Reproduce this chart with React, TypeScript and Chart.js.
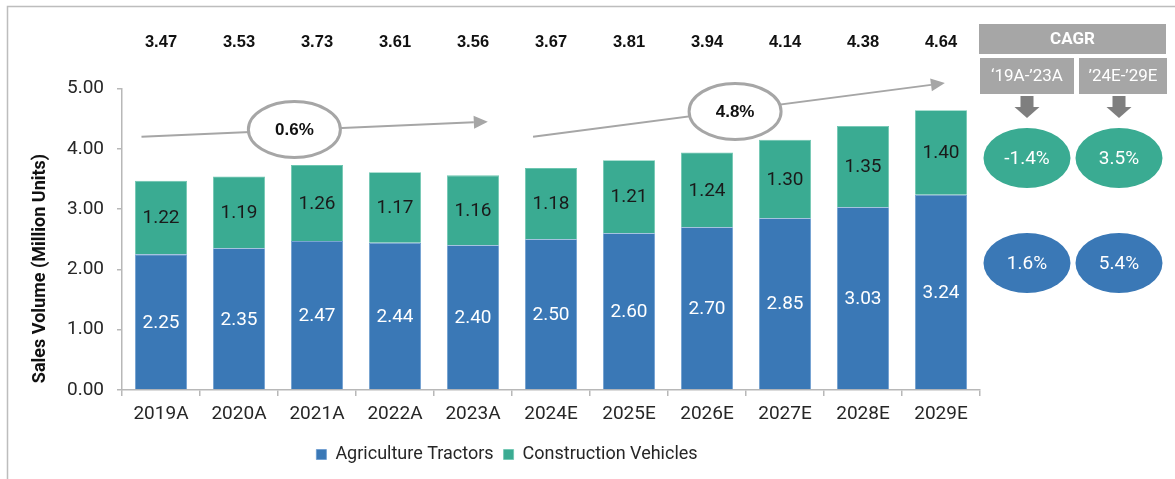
import React, { useEffect, useRef } from 'react';
import { Chart, registerables } from 'chart.js';

Chart.register(...registerables);

// ---------- data ----------
const categories = ['2019A', '2020A', '2021A', '2022A', '2023A', '2024E', '2025E', '2026E', '2027E', '2028E', '2029E'];
const agricultureTractors = [2.25, 2.35, 2.47, 2.44, 2.40, 2.50, 2.60, 2.70, 2.85, 3.03, 3.24];
const constructionVehicles = [1.22, 1.19, 1.26, 1.17, 1.16, 1.18, 1.21, 1.24, 1.30, 1.35, 1.40];
const totalLabels = [3.47, 3.53, 3.73, 3.61, 3.56, 3.67, 3.81, 3.94, 4.14, 4.38, 4.64];
const yTickMin = 0;
const yTickMax = 5;
const yTickStep = 1;
const trendCagr = ['0.6%', '4.8%'];
const cagrHeader = 'CAGR';
const cagrPeriods = ['\u201819A-\u201923A', '\u201924E-\u201929E'];
const constructionCagr = ['-1.4%', '3.5%'];
const agricultureCagr = ['1.6%', '5.4%'];
const seriesNames = ['Agriculture Tractors', 'Construction Vehicles'];
const yAxisTitle = 'Sales Volume (Million Units)';

// ---------- styles / layout ----------
const BLUE = '#3a78b6';
const GREEN = '#3aab92';
const AXIS_GRAY = '#b8b8b8';
const BOX_GRAY = '#a6a6a6';
const ARROW_GRAY = '#7f7f7f';
const TEXT = '#262626';
const SANS = 'Roboto, "Noto Sans", sans-serif';
const BOLD_SANS = '"Liberation Sans", Arial, sans-serif';

// trend arrows in (category index, value) space
const trendLayout = [
  { from: [-0.25, 4.2], to: [4.19, 4.45], label: [1.71, 4.32] },
  { from: [4.77, 4.2], to: [10.05, 5.09], label: [7.36, 4.62] },
];

function drawArrow(ctx: CanvasRenderingContext2D, x1: number, y1: number, x2: number, y2: number, color: string) {
  const ang = Math.atan2(y2 - y1, x2 - x1);
  const headLen = 14;
  const headHalf = 6.5;
  const bx = x2 - headLen * Math.cos(ang);
  const by = y2 - headLen * Math.sin(ang);
  ctx.save();
  ctx.strokeStyle = color;
  ctx.fillStyle = color;
  ctx.lineWidth = 2;
  ctx.beginPath();
  ctx.moveTo(x1, y1);
  ctx.lineTo(bx, by);
  ctx.stroke();
  ctx.beginPath();
  ctx.moveTo(x2, y2);
  ctx.lineTo(bx + headHalf * Math.sin(ang), by - headHalf * Math.cos(ang));
  ctx.lineTo(bx - headHalf * Math.sin(ang), by + headHalf * Math.cos(ang));
  ctx.closePath();
  ctx.fill();
  ctx.restore();
}

function ellipse(ctx: CanvasRenderingContext2D, cx: number, cy: number, rx: number, ry: number, fill: string, stroke?: string) {
  ctx.save();
  ctx.beginPath();
  ctx.ellipse(cx, cy, rx, ry, 0, 0, Math.PI * 2);
  ctx.fillStyle = fill;
  ctx.fill();
  if (stroke) {
    ctx.strokeStyle = stroke;
    ctx.lineWidth = 3;
    ctx.stroke();
  }
  ctx.restore();
}

function text(ctx: CanvasRenderingContext2D, s: string, x: number, y: number, font: string, color: string) {
  ctx.save();
  ctx.font = font;
  ctx.fillStyle = color;
  ctx.textAlign = 'center';
  ctx.textBaseline = 'middle';
  ctx.fillText(s, x, y);
  ctx.restore();
}

const overlayPlugin = {
  id: 'overlay',
  afterDatasetsDraw(chart: any) {
    const ctx = chart.ctx as CanvasRenderingContext2D;
    chart.data.datasets.forEach((ds: any, di: number) => {
      const meta = chart.getDatasetMeta(di);
      meta.data.forEach((el: any, i: number) => {
        const p = el.getProps(['x', 'y', 'base'], true);
        const color = di === 0 ? '#ffffff' : '#1a1a1a';
        text(ctx, Number(ds.data[i]).toFixed(2), p.x, (p.y + p.base) / 2 + 1, `19px ${SANS}`, color);
      });
    });
    const meta0 = chart.getDatasetMeta(0);
    const top = chart.chartArea.top;
    totalLabels.forEach((v, i) => {
      const el = meta0.data[i];
      text(ctx, v.toFixed(2), el.x, top - 46, `bold 16.5px ${BOLD_SANS}`, '#111111');
    });
  },
  afterDraw(chart: any) {
    const ctx = chart.ctx as CanvasRenderingContext2D;
    const xs = chart.scales.x;
    const ys = chart.scales.y;
    const area = chart.chartArea;

    // outer frame
    ctx.save();
    ctx.strokeStyle = '#bdbdbd';
    ctx.lineWidth = 1.5;
    ctx.beginPath();
    ctx.moveTo(7.5, chart.height);
    ctx.lineTo(7.5, 6.5);
    ctx.lineTo(chart.width, 6.5);
    ctx.stroke();
    ctx.restore();

    // y axis title
    ctx.save();
    ctx.translate(40, area.top + 180);
    ctx.rotate(-Math.PI / 2);
    ctx.font = `bold 18px ${SANS}`;
    ctx.fillStyle = '#111111';
    ctx.textAlign = 'center';
    ctx.textBaseline = 'middle';
    ctx.fillText(yAxisTitle, 0, 0);
    ctx.restore();

    // trend arrows
    const pos = (p: number[]) => {
      const px0 = xs.getPixelForValue(0);
      const step = xs.getPixelForValue(1) - px0;
      return [px0 + p[0] * step, ys.getPixelForValue(p[1])];
    };
    trendLayout.forEach((t, k) => {
      const [x1, y1] = pos(t.from);
      const [x2, y2] = pos(t.to);
      const [lx, ly] = pos(t.label);
      drawArrow(ctx, x1, y1, x2, y2, BOX_GRAY);
      ellipse(ctx, lx, ly, 46, 28, '#ffffff', BOX_GRAY);
      text(ctx, trendCagr[k], lx, ly + 1, `bold 17px ${BOLD_SANS}`, '#111111');
    });

    // CAGR panel
    const L = area.right;
    const T = area.top;
    ctx.save();
    ctx.fillStyle = BOX_GRAY;
    ctx.fillRect(L - 1, T - 64.5, 187, 30);
    ctx.fillRect(L, T - 30.5, 94, 36);
    ctx.fillRect(L + 99, T - 30.5, 88, 36);
    ctx.restore();
    text(ctx, cagrHeader, L + 92.5, T - 49, `bold 17px ${SANS}`, '#ffffff');
    text(ctx, cagrPeriods[0], L + 47, T - 12, `17px ${SANS}`, '#ffffff');
    text(ctx, cagrPeriods[1], L + 143, T - 12, `17px ${SANS}`, '#ffffff');

    const colX = [L + 47, L + 139];
    colX.forEach((cx) => {
      const ay = T + 7.5;
      ctx.save();
      ctx.fillStyle = ARROW_GRAY;
      ctx.fillRect(cx - 6.5, ay, 13, 11);
      ctx.beginPath();
      ctx.moveTo(cx - 12.5, ay + 11);
      ctx.lineTo(cx + 12.5, ay + 11);
      ctx.lineTo(cx, ay + 22);
      ctx.closePath();
      ctx.fill();
      ctx.restore();
    });

    const gy = T + 69.5;
    const by = T + 174.5;
    constructionCagr.forEach((s, k) => {
      ellipse(ctx, colX[k], gy, 43.5, 30, GREEN);
      text(ctx, s, colX[k], gy + 1, `19px ${SANS}`, '#ffffff');
    });
    agricultureCagr.forEach((s, k) => {
      ellipse(ctx, colX[k], by, 43.5, 30, BLUE);
      text(ctx, s, colX[k], by + 1, `19px ${SANS}`, '#ffffff');
    });
  },
};

export default function App() {
  const ref = useRef<HTMLCanvasElement>(null);
  useEffect(() => {
    if (!ref.current) return;
    const chart = new Chart(ref.current, {
      type: 'bar',
      data: {
        labels: categories,
        datasets: [
          {
            label: seriesNames[0],
            data: agricultureTractors,
            backgroundColor: BLUE,
            borderColor: '#6a9bd0',
            borderWidth: 0.8,
            stack: 's',
          },
          {
            label: seriesNames[1],
            data: constructionVehicles,
            backgroundColor: GREEN,
            borderColor: '#6cc6b0',
            borderWidth: 0.8,
            stack: 's',
          },
        ],
      },
      options: {
        responsive: false,
        animation: false,
        layout: { padding: { left: 34, right: 195, top: 88.5, bottom: 5.5 } },
        datasets: { bar: { categoryPercentage: 1, barPercentage: 0.667 } },
        plugins: {
          legend: {
            position: 'bottom',
            labels: {
              boxWidth: 10,
              boxHeight: 10,
              padding: 10,
              color: TEXT,
              font: { family: SANS, size: 18 },
            },
          },
          tooltip: { enabled: false },
        },
        scales: {
          x: {
            stacked: true,
            grid: { drawOnChartArea: false, drawTicks: true, tickLength: 6, color: AXIS_GRAY, lineWidth: 1.5, offset: true },
            border: { display: true, color: AXIS_GRAY, width: 1.5 },
            ticks: { color: TEXT, font: { family: SANS, size: 19 }, padding: 7, maxRotation: 0 },
            afterFit: (s: any) => { s.height = 45.5; },
          },
          y: {
            stacked: true,
            min: yTickMin,
            max: yTickMax,
            ticks: {
              stepSize: yTickStep,
              color: TEXT,
              font: { family: SANS, size: 19 },
              padding: 13,
              callback: (v: any) => Number(v).toFixed(2),
            },
            grid: { drawOnChartArea: false, drawTicks: true, tickLength: 5, color: AXIS_GRAY, lineWidth: 1.5 },
            border: { display: true, color: AXIS_GRAY, width: 1.5 },
            title: { display: false },
            afterFit: (s: any) => { s.width = 88; },
          },
        },
      },
      plugins: [overlayPlugin],
    });
    return () => chart.destroy();
  }, []);
  return (
    <div style={{ position: 'fixed', left: 0, top: 0, width: 1175, height: 479, background: '#ffffff' }}>
      <canvas ref={ref} width={1175} height={479} style={{ display: 'block' }} />
    </div>
  );
}
